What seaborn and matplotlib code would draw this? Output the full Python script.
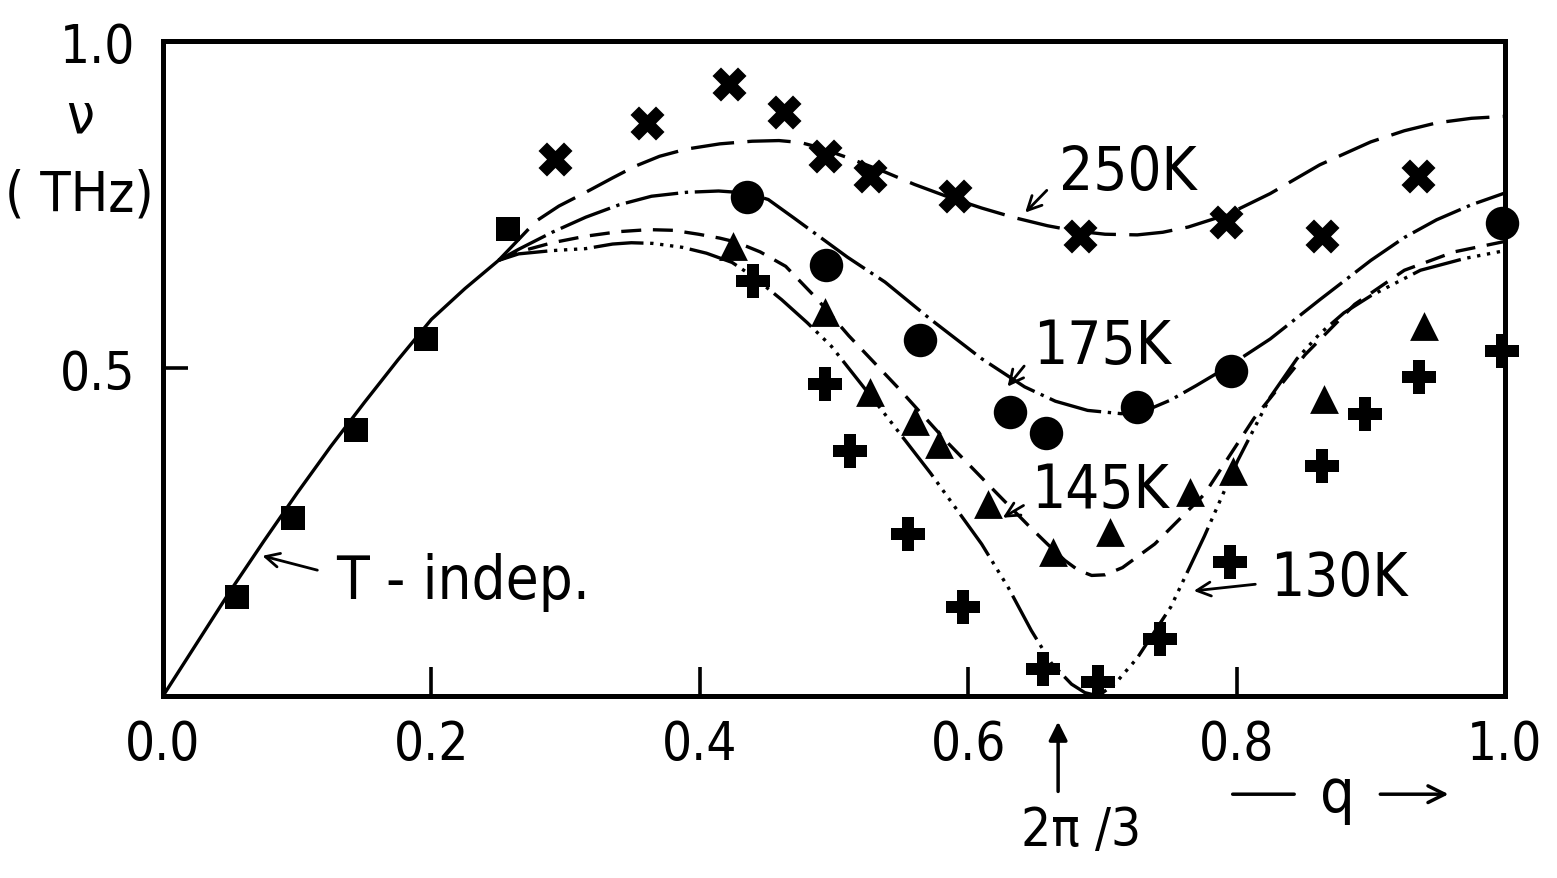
import pandas as pd
import matplotlib.pyplot as plt
import seaborn as sns

sq_q = [0.055, 0.097, 0.144, 0.196, 0.257]
sq_nu = [0.151, 0.272, 0.406, 0.545, 0.713]

k250_q = [0.292, 0.361, 0.422, 0.463, 0.493, 0.527, 0.590, 0.683, 0.792, 0.864, 0.935]
k250_nu = [0.820, 0.875, 0.934, 0.892, 0.824, 0.794, 0.763, 0.702, 0.724, 0.702, 0.794]

k175_q = [0.435, 0.494, 0.564, 0.631, 0.658, 0.726, 0.796, 0.998]
k175_nu = [0.762, 0.658, 0.544, 0.434, 0.402, 0.441, 0.496, 0.722]

k145_q = [0.425, 0.493, 0.527, 0.560, 0.578, 0.615, 0.663, 0.706, 0.765, 0.797, 0.865, 0.940]
k145_nu = [0.687, 0.586, 0.464, 0.420, 0.385, 0.293, 0.220, 0.250, 0.311, 0.344, 0.453, 0.565]

k130_q = [0.440, 0.493, 0.512, 0.555, 0.596, 0.656, 0.697, 0.743, 0.795, 0.864, 0.896, 0.936, 0.998]
k130_nu = [0.634, 0.476, 0.374, 0.247, 0.136, 0.041, 0.021, 0.087, 0.205, 0.351, 0.431, 0.487, 0.527]

# ---- calculated curves ----
ind_q = [0.0, 0.025, 0.05, 0.075, 0.10, 0.125, 0.15, 0.175, 0.20, 0.225, 0.25]
ind_nu = [0.0, 0.080, 0.160, 0.236, 0.310, 0.381, 0.448, 0.513, 0.575, 0.622, 0.665]

c250_q = [0.25, 0.265, 0.278, 0.295, 0.315, 0.335, 0.352, 0.37, 0.39, 0.415, 0.439, 0.459,
          0.475, 0.488, 0.51, 0.538, 0.56, 0.585, 0.61, 0.635, 0.659, 0.68, 0.702, 0.726,
          0.745, 0.764, 0.793, 0.825, 0.862, 0.900, 0.925, 0.949, 0.975, 1.0]
c250_nu = [0.665, 0.697, 0.725, 0.748, 0.769, 0.791, 0.809, 0.824, 0.835, 0.843, 0.847, 0.848,
           0.845, 0.838, 0.822, 0.800, 0.781, 0.762, 0.745, 0.730, 0.718, 0.710, 0.705, 0.704,
           0.708, 0.716, 0.735, 0.767, 0.811, 0.846, 0.863, 0.875, 0.882, 0.885]

c175_q = [0.25, 0.265, 0.29, 0.315, 0.34, 0.364, 0.39, 0.414, 0.435, 0.451, 0.47, 0.488,
          0.51, 0.538, 0.572, 0.610, 0.642, 0.665, 0.689, 0.714, 0.735, 0.751, 0.77, 0.793,
          0.825, 0.862, 0.900, 0.925, 0.949, 0.975, 1.0]
c175_nu = [0.665, 0.682, 0.708, 0.731, 0.750, 0.763, 0.769, 0.771, 0.768, 0.758, 0.730, 0.703,
           0.670, 0.632, 0.575, 0.515, 0.472, 0.450, 0.436, 0.431, 0.438, 0.452, 0.474, 0.502,
           0.545, 0.605, 0.665, 0.700, 0.727, 0.750, 0.768]

c145_q = [0.25, 0.265, 0.29, 0.315, 0.34, 0.362, 0.38, 0.399, 0.415, 0.427, 0.445, 0.464,
          0.487, 0.511, 0.548, 0.585, 0.622, 0.645, 0.659, 0.672, 0.682, 0.692, 0.702, 0.715,
          0.739, 0.776, 0.813, 0.851, 0.888, 0.925, 0.962, 1.0]
c145_nu = [0.665, 0.678, 0.692, 0.702, 0.709, 0.712, 0.711, 0.705, 0.699, 0.693, 0.678, 0.656,
           0.607, 0.550, 0.470, 0.386, 0.308, 0.260, 0.232, 0.207, 0.192, 0.184, 0.185, 0.196,
           0.232, 0.308, 0.424, 0.521, 0.598, 0.650, 0.678, 0.694]

c130_q = [0.25, 0.265, 0.29, 0.315, 0.335, 0.349, 0.365, 0.387, 0.405, 0.424, 0.44, 0.461,
          0.48, 0.498, 0.535, 0.572, 0.610, 0.630, 0.647, 0.662, 0.677, 0.687, 0.697, 0.71,
          0.726, 0.751, 0.776, 0.801, 0.825, 0.845, 0.862, 0.880, 0.900, 0.937, 0.970, 1.0]
c130_nu = [0.665, 0.675, 0.680, 0.683, 0.690, 0.692, 0.691, 0.685, 0.676, 0.662, 0.640, 0.605,
           0.570, 0.534, 0.438, 0.340, 0.232, 0.165, 0.100, 0.050, 0.018, 0.005, 0.0, 0.020,
           0.058, 0.136, 0.244, 0.360, 0.456, 0.515, 0.553, 0.585, 0.611, 0.650, 0.668, 0.680]

curve_names = ["T-indep.", "250K", "175K", "145K", "130K"]
curve_q = [ind_q, c250_q, c175_q, c145_q, c130_q]
curve_nu = [ind_nu, c250_nu, c175_nu, c145_nu, c130_nu]

curves = pd.concat([pd.DataFrame({"q": q, "nu": nu, "T": name})
                    for name, q, nu in zip(curve_names, curve_q, curve_nu)])

dash_map = {
    "T-indep.": "",
    "250K": (13, 4),
    "175K": (16, 2, 1, 2),
    "145K": (6, 3.5),
    "130K": (15, 2, 1, 2, 1, 2, 1, 2, 1, 2),
}

sns.set_style("ticks")
plt.rcParams["font.family"] = ["DejaVu Sans"]
plt.rcParams["font.stretch"] = "condensed"
plt.rcParams["text.color"] = "black"
plt.rcParams["xtick.color"] = "black"
plt.rcParams["ytick.color"] = "black"

fig = plt.figure(figsize=(15.57, 8.79), dpi=100)
ax = fig.add_axes([0.1047, 0.2071, 0.8619, 0.7451])

sns.lineplot(data=curves, x="q", y="nu", style="T", dashes=dash_map, color="black",
             lw=2.4, estimator=None, sort=False, legend=False, ax=ax)

# measured points, one marker per temperature
points = [
    (sq_q, sq_nu, "s", 290),
    (k250_q, k250_nu, "X", 600),
    (k175_q, k175_nu, "o", 580),
    (k145_q, k145_nu, "^", 430),
    (k130_q, k130_nu, "P", 600),
]
for q, nu, m, s in points:
    sns.scatterplot(x=q, y=nu, marker=m, s=s, color="black", linewidth=0,
                    ax=ax, zorder=3, clip_on=False)

ax.set_xlim(0, 1)
ax.set_ylim(0, 1)
ax.set_xticks([0.0, 0.2, 0.4, 0.6, 0.8, 1.0])
ax.set_xticklabels(["0.0", "0.2", "0.4", "0.6", "0.8", "1.0"])
ax.set_yticks([0.5, 1.0])
ax.set_yticklabels(["0.5", "1.0"])
ax.tick_params(axis="x", direction="in", length=21, width=2.6, labelsize=38, pad=16,
               colors="black")
ax.tick_params(axis="y", direction="in", length=18, width=2.6, labelsize=38, pad=20,
               colors="black")
for sp in ax.spines.values():
    sp.set_linewidth(3.6)
    sp.set_color("black")
ax.set_xlabel("")
ax.set_ylabel("")

# y axis label
ax.text(-0.062, 0.884, "ν", fontsize=40, ha="center", va="center", clip_on=False)
ax.text(-0.062, 0.766, "( THz)", fontsize=40, ha="center", va="center", clip_on=False)

# curve labels with arrows
arrow = dict(arrowstyle="->", color="black", lw=2, mutation_scale=25)
label_fs = 43
ax.text(0.668, 0.800, "250K", fontsize=label_fs, ha="left", va="center")
ax.annotate("", xy=(0.641, 0.735), xytext=(0.660, 0.775), arrowprops=arrow)
ax.text(0.648, 0.533, "175K", fontsize=label_fs, ha="left", va="center")
ax.annotate("", xy=(0.628, 0.469), xytext=(0.643, 0.507), arrowprops=arrow)
ax.text(0.647, 0.313, "145K", fontsize=label_fs, ha="left", va="center")
ax.annotate("", xy=(0.624, 0.270), xytext=(0.643, 0.293), arrowprops=arrow)
ax.text(0.825, 0.179, "130K", fontsize=label_fs, ha="left", va="center")
ax.annotate("", xy=(0.766, 0.160), xytext=(0.816, 0.171), arrowprops=arrow)
ax.text(0.129, 0.174, "T - indep.", fontsize=label_fs, ha="left", va="center")
ax.annotate("", xy=(0.072, 0.215), xytext=(0.117, 0.191), arrowprops=arrow)

# 2pi/3 marker below the axis
ax.annotate("", xy=(0.667, -0.035), xytext=(0.667, -0.150),
            arrowprops=dict(arrowstyle="-|>", color="black", lw=2.5, mutation_scale=28),
            annotation_clip=False)
ax.text(0.684, -0.205, "2π /3", fontsize=38, ha="center", va="center", clip_on=False)

# q axis label
ax.annotate("", xy=(0.845, -0.150), xytext=(0.795, -0.150),
            arrowprops=dict(arrowstyle="-", color="black", lw=2.5), annotation_clip=False)
ax.text(0.875, -0.150, "q", fontsize=44, ha="center", va="center", clip_on=False)
ax.annotate("", xy=(0.960, -0.150), xytext=(0.905, -0.150),
            arrowprops=dict(arrowstyle="->", color="black", lw=2.5, mutation_scale=30),
            annotation_clip=False)

fig.savefig("out.png", dpi=100)
